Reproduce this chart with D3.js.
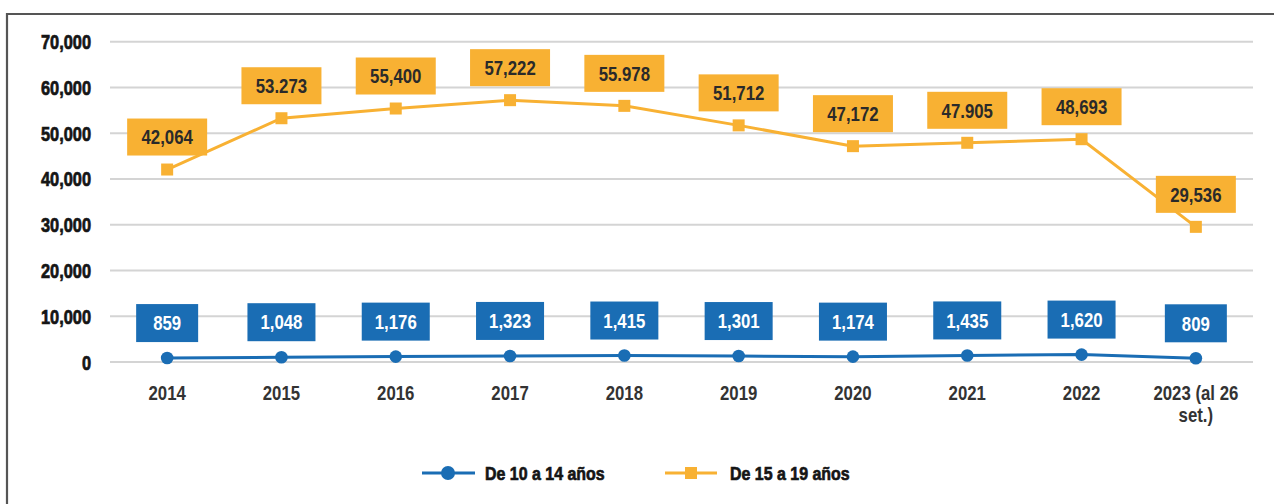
<!DOCTYPE html>
<html><head><meta charset="utf-8">
<script src="https://cdn.jsdelivr.net/npm/d3@7"></script>
<style>
html,body{margin:0;padding:0;background:#fff;}
svg{display:block;}
</style></head>
<body>
<svg id="chart" width="1274" height="504"></svg>
<script>
const categories = ["2014","2015","2016","2017","2018","2019","2020","2021","2022","2023 (al 26 set.)"];
const categoryLines = [["2014"],["2015"],["2016"],["2017"],["2018"],["2019"],["2020"],["2021"],["2022"],["2023 (al 26","set.)"]];
const young = [859,1048,1176,1323,1415,1301,1174,1435,1620,809];
const youngLabels = ["859","1,048","1,176","1,323","1,415","1,301","1,174","1,435","1,620","809"];
const older = [42064,53273,55400,57222,55978,51712,47172,47905,48693,29536];
const olderLabels = ["42,064","53.273","55,400","57,222","55.978","51,712","47,172","47.905","48,693","29,536"];
const yTicks = [0,10000,20000,30000,40000,50000,60000,70000];
const seriesNames = ["De 10 a 14 años","De 15 a 19 años"];

const BLUE = "#1a6db4", ORANGE = "#f8b133";
const FONT = "'Liberation Sans',Arial,sans-serif";
const SX = 0.84;

const svg = d3.select("#chart");

// frame
svg.append("path").attr("d","M7,520 L7,14 L1290,14")
  .attr("fill","none").attr("stroke","#555").attr("stroke-width",2.2);

const x = d3.scaleBand().domain(categories).range([110,1253]).padding(0);
const y = d3.scaleLinear().domain([0,70000]).range([362,41.7]);
const cx = d => x(d) + x.bandwidth()/2;

// condensed text helper
function ctext(parent, px, py, str, opts){
  const g = parent.append("g").attr("transform",`translate(${px},${py}) scale(${opts.sx||SX},1)`);
  const t = g.append("text").attr("x",0).attr("y",0)
    .attr("text-anchor",opts.anchor||"middle").attr("dy",opts.dy||"0.36em")
    .attr("font-family",FONT).attr("font-weight","bold").attr("font-size",opts.size)
    .attr("fill",opts.fill).text(str);
  if(opts.stroke){ t.attr("stroke",opts.fill).attr("stroke-width",opts.stroke); }
  return t;
}

// gridlines
svg.append("g").selectAll("line").data(yTicks).join("line")
  .attr("x1",110).attr("x2",1253)
  .attr("y1",d=>y(d)).attr("y2",d=>y(d))
  .attr("stroke","#d4d4d4").attr("stroke-width",2);

// y axis labels
const yAxis = d3.axisLeft(y).tickValues(yTicks).tickSize(0).tickPadding(0)
  .tickFormat(d=>d3.format(",")(d));
const yg = svg.append("g").attr("transform","translate(91,0)").call(yAxis);
yg.select(".domain").remove();
yg.selectAll("text").attr("font-family",FONT).attr("font-weight","bold")
  .attr("font-size",19.5).attr("fill","#151515").attr("dy","0.36em")
  .attr("stroke","#151515").attr("stroke-width",0.7)
  .attr("transform",`scale(${SX},1)`);

// x axis labels
const xg = svg.append("g");
categories.forEach((c,i)=>{
  categoryLines[i].forEach((ln,j)=>{
    ctext(xg, cx(c), 393 + j*22, ln, {size:20, fill:"#333"});
  });
});

// lines
const line = vals => d3.line().x((d,i)=>cx(categories[i])).y(d=>y(d))(vals);
svg.append("path").attr("d",line(older)).attr("fill","none")
  .attr("stroke",ORANGE).attr("stroke-width",3);
svg.append("path").attr("d",line(young)).attr("fill","none")
  .attr("stroke",BLUE).attr("stroke-width",3);

// markers
svg.append("g").selectAll("rect").data(older).join("rect")
  .attr("x",(d,i)=>cx(categories[i])-6).attr("y",d=>y(d)-6)
  .attr("width",12).attr("height",12).attr("fill",ORANGE);
svg.append("g").selectAll("circle").data(young).join("circle")
  .attr("cx",(d,i)=>cx(categories[i])).attr("cy",d=>y(d))
  .attr("r",6.3).attr("fill",BLUE);

// labels
function labels(vals, texts, fill, txtFill, gap, h, pad, minW){
  const g = svg.append("g");
  vals.forEach((v,i)=>{
    const px = cx(categories[i]), py = y(v);
    const lg = g.append("g");
    const rect = lg.append("rect");
    const t = ctext(lg, px, py-gap-h/2, texts[i], {size:20, fill:txtFill});
    const w = Math.max(minW, t.node().getComputedTextLength()*SX + pad);
    rect.attr("x",px-w/2).attr("y",py-gap-h)
      .attr("width",w).attr("height",h).attr("fill",fill);
  });
}
labels(older, olderLabels, ORANGE, "#2a2a2a", 14, 37, 28, 80);
labels(young, youngLabels, BLUE, "#fff", 16, 38, 26, 62);

// legend
const lg = svg.append("g");
lg.append("line").attr("x1",422).attr("x2",475).attr("y1",473).attr("y2",473)
  .attr("stroke",BLUE).attr("stroke-width",3);
lg.append("circle").attr("cx",448).attr("cy",473).attr("r",7).attr("fill",BLUE);
ctext(lg, 485, 473, seriesNames[0], {size:19, fill:"#151515", anchor:"start", stroke:0.7});
lg.append("line").attr("x1",665).attr("x2",717).attr("y1",473).attr("y2",473)
  .attr("stroke",ORANGE).attr("stroke-width",3);
lg.append("rect").attr("x",685).attr("y",467).attr("width",12).attr("height",12).attr("fill",ORANGE);
ctext(lg, 730, 473, seriesNames[1], {size:19, fill:"#151515", anchor:"start", stroke:0.7});
</script>
</body></html>
